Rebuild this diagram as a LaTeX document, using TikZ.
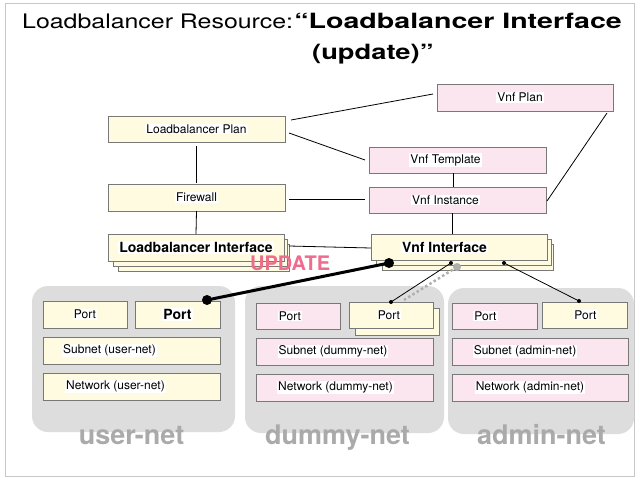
\documentclass[tikz,border=0pt]{standalone}
\usepackage{fontspec}
\setmainfont{TeX Gyre Heros}
\usetikzlibrary{calc}
\definecolor{cream}{RGB}{254,251,224}
\definecolor{pinkf}{RGB}{251,230,239}
\definecolor{bord}{RGB}{120,120,120}
\definecolor{grp}{RGB}{221,221,221}
\definecolor{grplbl}{RGB}{170,170,170}
\definecolor{upd}{RGB}{238,108,140}
\definecolor{framec}{RGB}{200,200,200}
\definecolor{dotg}{RGB}{175,175,175}
\begin{document}
\begin{tikzpicture}[x=1pt,y=-1pt,
  box/.style={draw=bord, line width=0.8pt, inner sep=0pt, outer sep=0pt},
  ybox/.style={box, fill=cream},
  pbox/.style={box, fill=pinkf},
  lbl/.style={fill=white, inner sep=1pt, font=\fontsize{12}{14}\selectfont},
  blbl/.style={fill=white, inner sep=1pt, font=\fontsize{14}{16}\selectfont\bfseries},
  grpbox/.style={fill=grp, rounded corners=16pt, inner sep=0pt, outer sep=0pt},
  glbl/.style={text=grplbl, font=\fontsize{27}{30}\selectfont\bfseries, inner sep=0pt},
  conn/.style={line width=0.8pt, black},
]
\useasboundingbox (0,0) rectangle (640,480);
\fill[white] (0,0) rectangle (640,480);
\draw[framec, line width=1pt] (5,3) rectangle (634,476);

% title
\node[anchor=base west, inner sep=0pt] (title1) at (22,28.5)
  {\scalebox{1.245}[1]{\fontsize{20}{24}\selectfont Loadbalancer Resource:}};
\node[anchor=base east, inner sep=0pt] (title1b) at (622,28.5)
  {\scalebox{1.36}[1]{\fontsize{21}{24}\selectfont\bfseries “Loadbalancer Interface}};
\node[anchor=base west, inner sep=0pt] (title2) at (312,59)
  {\scalebox{1.3}[1]{\fontsize{21}{24}\selectfont\bfseries (update)”}};

% groups
\node[grpbox, minimum width=203, minimum height=146] (gu) at (133.5,359) {};
\node[grpbox, minimum width=199, minimum height=147] (gd) at (344.5,359.5) {};
\node[grpbox, minimum width=186, minimum height=146] (ga) at (541,361) {};
\node[glbl, anchor=base] (gul) at (131.5,444) {user-net};
\node[glbl, anchor=base] (gdl) at (337.5,444) {dummy-net};
\node[glbl, anchor=base] (gal) at (541.5,444) {admin-net};

% upper boxes
\node[pbox, minimum width=176, minimum height=27] (vplan) at (525,97.5) {};
\node[lbl] (vplanl) at ([xshift=-5]vplan.center) {Vnf Plan};
\node[ybox, minimum width=177, minimum height=26] (lbplan) at (196.5,129) {};
\node[lbl] (lbplanl) at (lbplan.center) {Loadbalancer Plan};
\node[pbox, minimum width=177, minimum height=26] (vtmpl) at (457.5,160) {};
\node[lbl] (vtmpll) at ([xshift=-12]vtmpl.center) {Vnf Template};
\node[ybox, minimum width=177, minimum height=27] (fw) at (196.5,197.5) {};
\node[lbl] (fwl) at (fw.center) {Firewall};
\node[pbox, minimum width=177, minimum height=26] (vinst) at (457.5,200) {};
\node[lbl] (vinstl) at ([xshift=-12]vinst.center) {Vnf Instance};

% stacked Loadbalancer Interface
\node[ybox, minimum width=171, minimum height=27] (lbifb2) at (203.5,257.5) {};
\node[ybox, minimum width=174, minimum height=27] (lbifb1) at (200,252.5) {};
\node[ybox, minimum width=176, minimum height=27] (lbif) at (196,247.5) {};
\node[blbl] (lbifl) at (lbif.center) {Loadbalancer Interface};

% stacked Vnf Interface
\node[ybox, minimum width=171, minimum height=26] (vifb2) at (467.5,257) {};
\node[ybox, minimum width=175, minimum height=26] (vifb1) at (463.5,252) {};
\node[ybox, minimum width=176, minimum height=26] (vif) at (459,247) {};
\node[blbl] (vifl) at ([xshift=-14.5]vif.center) {Vnf Interface};

% UPDATE
\node[anchor=base west, inner sep=0pt, text=upd, font=\fontsize{20}{22}\selectfont\bfseries] (upd) at (250,270) {UPDATE};

% user-net boxes
\node[ybox, minimum width=84, minimum height=27] (up1) at (85,314.5) {};
\node[lbl] (up1l) at (up1.center) {Port};
\node[ybox, minimum width=85, minimum height=27] (up2) at (177.5,314.5) {};
\node[blbl] (up2l) at (up2.center) {Port};
\node[ybox, minimum width=177, minimum height=27] (usub) at (131.5,350.5) {};
\node[lbl] (usubl) at ([xshift=-22]usub.center) {Subnet (user-net)};
\node[ybox, minimum width=177, minimum height=27] (unet) at (131.5,386.5) {};
\node[lbl] (unetl) at ([xshift=-16]unet.center) {Network (user-net)};

% dummy-net boxes
\node[pbox, minimum width=84, minimum height=26] (dp1) at (298,316) {};
\node[lbl] (dp1l) at ([xshift=-8]dp1.center) {Port};
\node[ybox, minimum width=84, minimum height=27] (dp2b) at (397,321.5) {};
\node[ybox, minimum width=84, minimum height=26] (dp2) at (391,315) {};
\node[lbl] (dp2l) at ([xshift=-2]dp2.center) {Port};
\node[pbox, minimum width=177, minimum height=27] (dsub) at (344.5,351.5) {};
\node[lbl] (dsubl) at ([xshift=-11.5]dsub.center) {Subnet (dummy-net)};
\node[pbox, minimum width=177, minimum height=27] (dnet) at (344.5,387.5) {};
\node[lbl] (dnetl) at ([xshift=-9]dnet.center) {Network (dummy-net)};

% admin-net boxes
\node[pbox, minimum width=85, minimum height=26] (ap1) at (494.5,316) {};
\node[lbl] (ap1l) at ([xshift=-9]ap1.center) {Port};
\node[ybox, minimum width=85, minimum height=26] (ap2) at (584.5,315) {};
\node[lbl] (ap2l) at ([xshift=1]ap2.center) {Port};
\node[pbox, minimum width=176, minimum height=27] (asub) at (540,351.5) {};
\node[lbl] (asubl) at ([xshift=-15]asub.center) {Subnet (admin-net)};
\node[pbox, minimum width=176, minimum height=27] (anet) at (540,387.5) {};
\node[lbl] (anetl) at ([xshift=-10]anet.center) {Network (admin-net)};

% connectors
\draw[conn] ([shift={(6,4)}]lbplan.north east) -- ([shift={(-4,-3.5)}]vplan.west);
\draw[conn] ([shift={(4,4)}]lbplan.east) -- ([shift={(-4,0)}]vtmpl.west);
\draw[conn] ([yshift=-4]lbplan.south) -- ([yshift=1]fw.north);
\draw[conn] ([shift={(4,1.5)}]fw.east) -- ([shift={(-4,-1)}]vinst.west);
\draw[conn] (fw.south) -- (lbif.north);
\draw[conn] ([xshift=-4.5]vtmpl.south) -- ([xshift=-4.5]vinst.north);
\draw[conn] ([xshift=-5.5]vinst.south) -- ([xshift=-7]vif.north);
\draw[conn] ([shift={(5,-1.5)}]lbif.east) -- ([yshift=-1]vif.west);
\draw[conn] ([shift={(1,1)}]vinst.east) -- ([shift={(-6,2)}]vplan.south east);

% port connections
\coordinate (c1) at ([shift={(18,3)}]vif.south west);
\coordinate (c2) at ([shift={(-13,-1)}]up2.north east);
\coordinate (c3) at ([shift={(80,3)}]vif.south west);
\coordinate (c4) at (dp2.north);
\coordinate (c5) at ([shift={(86,7)}]vif.south west);
\coordinate (c6) at ([shift={(13,-2)}]dp2.north);
\coordinate (c7) at ([shift={(133,3)}]vif.south west);
\coordinate (c8) at ([shift={(-5.5,-1)}]ap2.north);

\draw[line width=3pt] (c1) -- (c2);
\fill (c1) circle[radius=5pt];
\fill (c2) circle[radius=5pt];
\draw[conn] (c3) -- (c4);
\fill (c3) circle[radius=2pt];
\fill (c4) circle[radius=2pt];
\draw[dotg, line width=2.5pt, dash pattern=on 2.5pt off 2.5pt] (c5) -- (c6);
\fill[dotg] (c5) circle[radius=4pt];
\draw[conn] (c7) -- (c8);
\fill (c7) circle[radius=2pt];
\fill (c8) circle[radius=2pt];
\end{tikzpicture}
\end{document}
